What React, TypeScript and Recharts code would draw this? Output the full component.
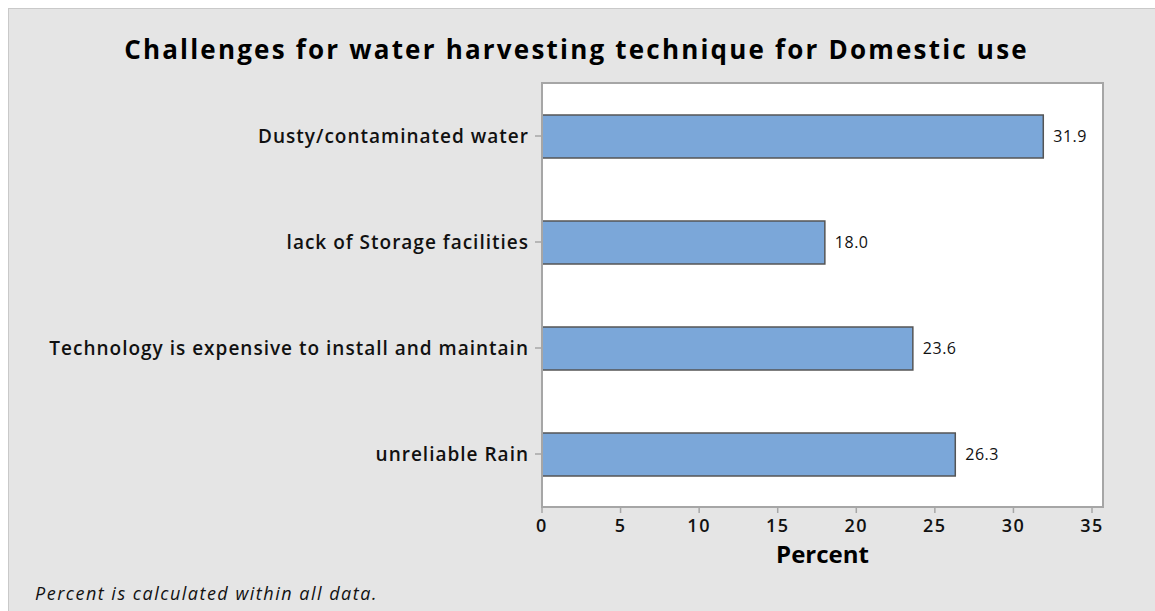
import React from "react";
import {
  Bar,
  BarChart,
  CartesianGrid,
  LabelList,
  ReferenceArea,
  XAxis,
  YAxis,
} from "recharts";

const categories = [
  "Dusty/contaminated water",
  "lack of Storage facilities",
  "Technology is expensive to install and maintain",
  "unreliable Rain",
];
const percents = [31.9, 18.0, 23.6, 26.3];
const xTicks = [0, 5, 10, 15, 20, 25, 30, 35];
const xMax = 35.7;

const data = categories.map((name, i) => ({ name, value: percents[i] }));

const FONT = "'Open Sans', 'Noto Sans', sans-serif";
const AXIS = "#a6a6a6";

export default function App() {
  return (
    <div
      style={{
        position: "absolute",
        left: 0,
        top: 0,
        width: 1155,
        height: 611,
        background: "#fff",
        fontFamily: FONT,
        overflow: "hidden",
      }}
    >
      <div
        style={{
          position: "absolute",
          left: 8,
          top: 8,
          right: 0,
          bottom: 0,
          background: "#e5e5e5",
          borderTop: "1px solid #c9c9c9",
          borderLeft: "1px solid #c9c9c9",
        }}
      />
      <div
        style={{
          position: "absolute",
          left: 0,
          width: 1153,
          top: 31,
          textAlign: "center",
          fontSize: 26,
          fontWeight: 700,
          letterSpacing: 2.2,
          lineHeight: "normal",
          color: "#000",
        }}
      >
        Challenges for water harvesting technique for Domestic use
      </div>
      <div style={{ position: "absolute", left: 0, top: 0 }}>
        <BarChart
          width={1155}
          height={611}
          data={data}
          layout="vertical"
          margin={{ top: 83, right: 52, bottom: 0, left: 0 }}
          barCategoryGap={0}
        >
          <CartesianGrid
            fill="#ffffff"
            horizontal={false}
            vertical={false}
            stroke="none"
          />
          <XAxis
            type="number"
            domain={[0, xMax]}
            ticks={xTicks}
            allowDataOverflow
            height={104}
            tickSize={6}
            tickMargin={6}
            axisLine={{ stroke: AXIS, strokeWidth: 2 }}
            tickLine={{ stroke: AXIS, strokeWidth: 1.5 }}
            tick={{
              fill: "#111",
              fontSize: 18,
              fontWeight: 600,
              fontFamily: FONT,
              letterSpacing: 1.5,
            }}
          />
          <YAxis
            type="category"
            dataKey="name"
            width={542}
            tickSize={7}
            tickMargin={6}
            axisLine={{ stroke: AXIS, strokeWidth: 2 }}
            tickLine={{ stroke: AXIS, strokeWidth: 1.5 }}
            tick={{
              fill: "#111",
              fontSize: 19,
              fontWeight: 600,
              fontFamily: FONT,
              letterSpacing: 1,
            }}
          />
          <ReferenceArea
            x1={0}
            x2={xMax}
            fill="none"
            stroke={AXIS}
            strokeWidth={2}
          />
          <Bar
            dataKey="value"
            fill="#7ba7d9"
            stroke="#555"
            strokeWidth={1.5}
            barSize={43}
            isAnimationActive={false}
          >
            <LabelList
              dataKey="value"
              position="right"
              offset={10}
              fill="#111"
              fontSize={16}
              fontFamily={FONT}
              letterSpacing={0.5}
              formatter={(v: number) => v.toFixed(1)}
            />
          </Bar>
        </BarChart>
      </div>
      <div
        style={{
          position: "absolute",
          left: 542,
          width: 561,
          top: 537,
          textAlign: "center",
          fontSize: 24,
          fontWeight: 700,
          lineHeight: "normal",
          color: "#000",
        }}
      >
        Percent
      </div>
      <div
        style={{
          position: "absolute",
          left: 35,
          top: 581,
          fontSize: 18,
          fontStyle: "italic",
          letterSpacing: 1.5,
          lineHeight: "normal",
          color: "#111",
        }}
      >
        Percent is calculated within all data.
      </div>
    </div>
  );
}
